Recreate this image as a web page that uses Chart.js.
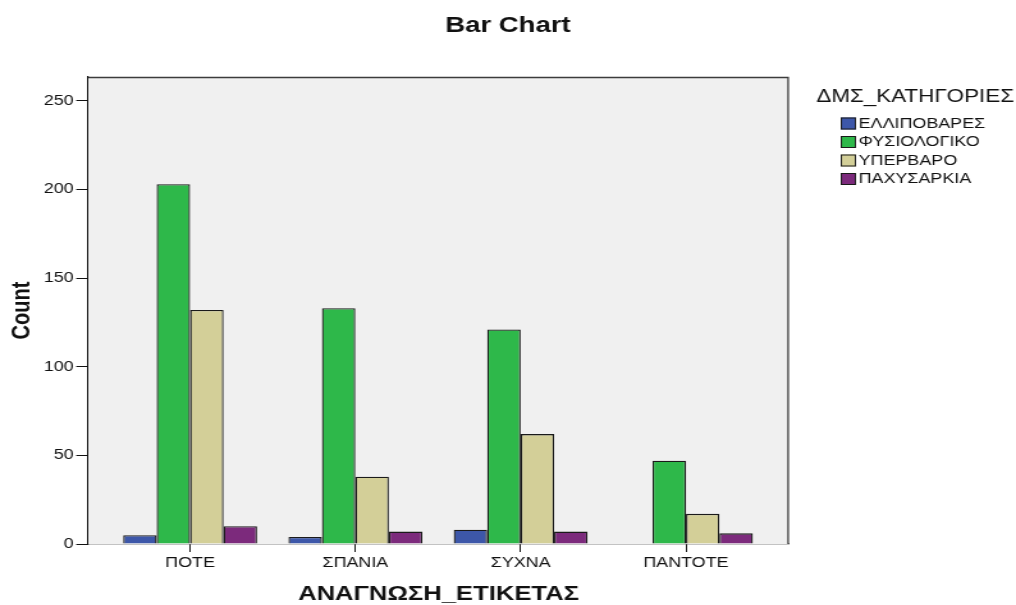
<!DOCTYPE html>
<html>
<head>
<meta charset="utf-8">
<script src="https://cdn.jsdelivr.net/npm/chart.js"></script>
<style>
    body { margin: 0; background: #fff; }
    /* drawn at 794 wide, shown at 1016 wide: gives the wide SPSS-style lettering */
    #chart { width: 1016px !important; height: 605px !important; display: block; }
</style>
</head>
<body>
<canvas id="chart" width="794" height="605" style="width:1016px;height:605px"></canvas>
<script>
// ΑΝΑΓΝΩΣΗ_ΕΤΙΚΕΤΑΣ x ΔΜΣ_ΚΑΤΗΓΟΡΙΕΣ (counts)
const categories = ['ΠΟΤΕ', 'ΣΠΑΝΙΑ', 'ΣΥΧΝΑ', 'ΠΑΝΤΟΤΕ'];
const groups = ['ΕΛΛΙΠΟΒΑΡΕΣ', 'ΦΥΣΙΟΛΟΓΙΚΟ', 'ΥΠΕΡΒΑΡΟ', 'ΠΑΧΥΣΑΡΚΙΑ'];
const underweight = [5, 4, 8, null];
const normal = [203, 133, 121, 47];
const overweight = [132, 38, 62, 17];
const obese = [10, 7, 7, 6];
const yTicks = [0, 50, 100, 150, 200, 250];

const colors = ['#3d57a9', '#2eb84a', '#d3cf98', '#7c2a7c'];
const FONT = '"Liberation Sans", Arial, sans-serif';

const series = [underweight, normal, overweight, obese];
const datasets = series.map((vals, i) => ({
    label: groups[i],
    data: vals.map((v, j) => ({ x: j, y: v })),
    backgroundColor: colors[i],
    borderColor: '#1a1a1a',
    borderWidth: 1.3,
    categoryPercentage: 0.81,
    barPercentage: 1
}));

// grey plot background, frame and the legend on the right
const frame = {
    id: 'frame',
    beforeDatasetsDraw(chart) {
        const { ctx, chartArea: a } = chart;
        ctx.save();
        ctx.fillStyle = '#f0f0f0';
        ctx.fillRect(a.left, a.top, a.right - a.left, a.bottom - a.top);
        ctx.restore();
    },
    afterDraw(chart) {
        const { ctx, chartArea: a } = chart;
        ctx.save();
        ctx.strokeStyle = '#3c3c3c';
        ctx.lineWidth = 1.3;
        ctx.beginPath();
        ctx.moveTo(a.left, a.top + 0.5);
        ctx.lineTo(a.right - 0.5, a.top + 0.5);
        ctx.lineTo(a.right - 0.5, a.bottom);
        ctx.stroke();

        ctx.fillStyle = '#111';
        ctx.textBaseline = 'middle';
        ctx.textAlign = 'left';
        ctx.font = '17.5px ' + FONT;
        ctx.fillText('ΔΜΣ_ΚΑΤΗΓΟΡΙΕΣ', 638, 97);

        ctx.font = '14px ' + FONT;
        chart.data.datasets.forEach((ds, i) => {
            const y = 123.5 + i * 18.5;
            ctx.fillStyle = ds.backgroundColor;
            ctx.fillRect(657, y - 6, 12, 12);
            ctx.strokeStyle = '#1a1a1a';
            ctx.lineWidth = 1;
            ctx.strokeRect(657.5, y - 5.5, 11, 11);
            ctx.fillStyle = '#111';
            ctx.fillText(ds.label, 671, y + 0.5);
        });
        ctx.restore();
    }
};

new Chart(document.getElementById('chart'), {
    type: 'bar',
    data: { datasets },
    options: {
        responsive: false,
        animation: false,
        plugins: {
            legend: { display: false },
            tooltip: { enabled: false },
            title: {
                display: true,
                text: 'Bar Chart',
                color: '#111',
                font: { family: FONT, size: 21.5, weight: 'bold', lineHeight: 1.2 },
                padding: { top: 13, bottom: 38.2 }
            }
        },
        scales: {
            x: {
                type: 'linear',
                offset: false,
                min: -0.616,
                max: 3.622,
                afterBuildTicks: s => { s.ticks = categories.map((c, i) => ({ value: i })); },
                afterFit: s => { s.height = 61; },
                ticks: {
                    callback: v => categories[v],
                    color: '#111',
                    padding: 3,
                    maxRotation: 0,
                    autoSkip: false,
                    font: { family: FONT, size: 14 }
                },
                grid: { offset: false, drawOnChartArea: false, drawTicks: true, tickLength: 8, color: '#111' },
                border: { color: '#111', width: 1.2 },
                title: {
                    display: true,
                    text: 'ΑΝΑΓΝΩΣΗ_ΕΤΙΚΕΤΑΣ',
                    color: '#111',
                    font: { family: FONT, size: 20, weight: 'bold', lineHeight: 1 },
                    padding: { top: 0, bottom: 1 }
                }
            },
            y: {
                min: 0,
                max: 263.5,
                afterBuildTicks: s => { s.ticks = yTicks.map(v => ({ value: v })); },
                afterFit: s => { s.width = 69; },
                ticks: {
                    color: '#111',
                    padding: 2,
                    font: { family: FONT, size: 14 }
                },
                grid: { drawOnChartArea: false, drawTicks: true, tickLength: 9.4, color: '#111' },
                border: { color: '#111', width: 1.2 },
                title: {
                    display: true,
                    text: 'Count',
                    color: '#111',
                    font: { family: FONT, size: 20, weight: 'bold', lineHeight: 1 },
                    padding: { top: 7, bottom: 0 }
                }
            },
            // empty right-hand axis: reserves the room the legend is drawn in
            legendSpace: {
                position: 'right',
                display: true,
                afterFit: s => { s.width = 177.6; },
                ticks: { display: false },
                grid: { display: false },
                border: { display: false }
            }
        }
    },
    plugins: [frame]
});
</script>
</body>
</html>
